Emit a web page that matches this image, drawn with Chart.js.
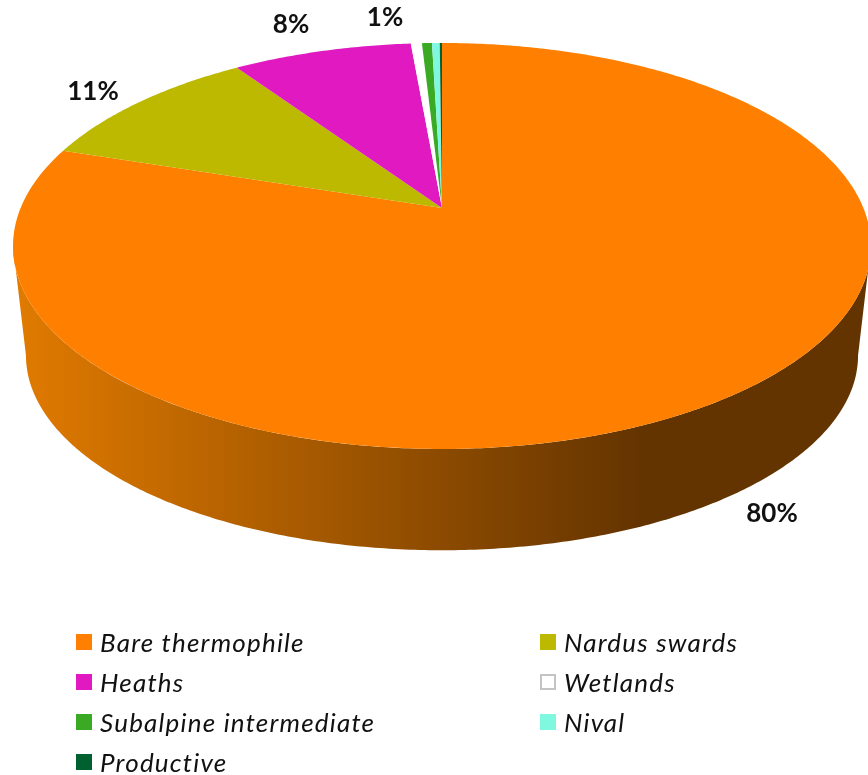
<!DOCTYPE html>
<html>
<head>
<meta charset="utf-8">
<script src="https://cdn.jsdelivr.net/npm/chart.js@4"></script>
<style>
  body { margin: 0; background: #fff; }
  #wrap { position: relative; width: 868px; height: 775px; overflow: hidden; }
  #legend { position: absolute; left: 76px; top: 622px; display: grid; grid-template-columns: 464px 300px; grid-auto-rows: 40px;
    font: italic 26px Lato, sans-serif; letter-spacing: 1.2px; color: #111; }
  #legend div { display: flex; align-items: center; white-space: nowrap; }
  #legend i { width: 16px; height: 16px; margin-right: 8px; box-sizing: border-box; flex: none; }
</style>
</head>
<body>
<div id="wrap">
  <canvas id="myChart" width="868" height="775"></canvas>
  <div id="legend"></div>
</div>
<script>
const categories = ["Bare thermophile", "Nardus swards", "Heaths", "Wetlands", "Subalpine intermediate", "Nival", "Productive"]
const shares = [80, 10.5, 8.1, 0.5, 0.45, 0.35, 0.1]
const shareLabels = ["80%", "11%", "8%", "1%"]
const sliceColors = ["#ff8000", "#bcb900", "#e01ac0", "#ffffff", "#3aaa25", "#80f8e0", "#006030"]
const legendOrder = [0, 1, 2, 3, 4, 5, 6]

// where the percent text sits, same order as shareLabels
const labelSpots = [[772, 514], [93, 92], [291, 25], [385, 18]]

// the disc is seen in perspective: the far side is squeezed and the centre sits above the middle of the ellipse
const cx = 442
const tilt = -0.187
const topDisc = {a: 421.4, b: 195.9, y0: 208}
const bottomDisc = {a: 408.7, b: 188, y0: 319}

const project = function(angle, disc) {
  const x = Math.cos(angle), y = Math.sin(angle)
  const w = 1 + tilt * y
  return [cx + disc.a * x / w, disc.y0 + disc.b * y / w]
}

const sample = function(start, end) {
  const steps = Math.max(2, Math.ceil((end - start) / 0.01))
  const out = []
  for (let i = 0; i <= steps; i++) out.push(start + (end - start) * i / steps)
  return out
}

// arcs keep the angles the pie controller gave them, only the outline is projected
Chart.ArcElement.prototype.draw = function(ctx) {
  const {startAngle, endAngle} = this.getProps(['startAngle', 'endAngle'])
  ctx.save()
  ctx.fillStyle = this.options.backgroundColor
  ctx.beginPath()
  ctx.moveTo(cx, topDisc.y0)
  sample(startAngle, endAngle).forEach(a => {
    const p = project(a, topDisc)
    ctx.lineTo(p[0], p[1])
  })
  ctx.closePath()
  ctx.fill()
  ctx.restore()
}

const sideWall = {
  id: 'sideWall',
  beforeDatasetsDraw(chart) {
    // only the first slice reaches the front of the disc, the others have their wall hidden
    const arc = chart.getDatasetMeta(0).data[0]
    // visible part of the wall runs between the widest points of the projected disc
    const edge = Math.asin(-tilt)
    const angles = sample(Math.max(arc.startAngle, edge), Math.min(arc.endAngle, Math.PI - edge))
    const ctx = chart.ctx
    const grad = ctx.createLinearGradient(20, 0, 640, 0)
    grad.addColorStop(0, '#e07a00')
    grad.addColorStop(1, '#643400')
    ctx.save()
    ctx.fillStyle = grad
    ctx.beginPath()
    angles.forEach(a => {
      const p = project(a, topDisc)
      ctx.lineTo(p[0], p[1])
    })
    angles.slice().reverse().forEach(a => {
      const p = project(a, bottomDisc)
      ctx.lineTo(p[0], p[1])
    })
    ctx.closePath()
    ctx.fill()
    ctx.restore()
  }
}

const shareText = {
  id: 'shareText',
  afterDraw(chart) {
    const ctx = chart.ctx
    ctx.save()
    ctx.font = 'bold 26px Lato, sans-serif'
    ctx.fillStyle = '#111'
    ctx.textAlign = 'center'
    ctx.textBaseline = 'middle'
    shareLabels.forEach((t, i) => ctx.fillText(t, labelSpots[i][0], labelSpots[i][1]))
    ctx.restore()
  }
}

new Chart(document.getElementById('myChart'), {
  type: 'pie',
  data: {
    labels: categories,
    datasets: [{data: shares, backgroundColor: sliceColors, borderWidth: 0}]
  },
  options: {
    responsive: false,
    animation: false,
    plugins: {legend: {display: false}, tooltip: {enabled: false}}
  },
  plugins: [sideWall, shareText]
})

const legend = document.getElementById('legend')
legendOrder.forEach(i => {
  const row = document.createElement('div')
  const box = document.createElement('i')
  box.style.background = sliceColors[i]
  if (categories[i] === 'Wetlands') box.style.border = '2px solid #c4c4c4'
  row.appendChild(box)
  row.appendChild(document.createTextNode(categories[i]))
  legend.appendChild(row)
})
</script>
</body>
</html>
